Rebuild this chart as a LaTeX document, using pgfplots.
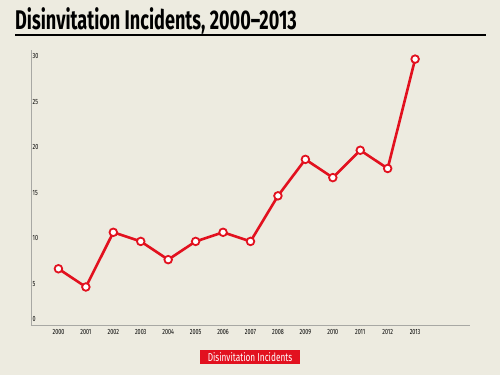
\documentclass[border=0pt]{standalone}
\usepackage{pgfplots}
\pgfplotsset{compat=1.18}
\usepackage{fontspec}
\setmainfont{Fira Sans}
\newfontfamily\titlefont[FakeStretch=0.67]{Fira Sans Bold}
\newfontfamily\condfont[FakeStretch=0.72]{Fira Sans}
\definecolor{bg}{HTML}{EDEBE0}
\definecolor{myred}{HTML}{E2111F}
\definecolor{axgray}{HTML}{A8A8A4}
\begin{document}
\begin{tikzpicture}
\fill[bg] (0,0) rectangle (500pt,375pt);
\node[anchor=base west, inner sep=0pt, font=\titlefont\fontsize{27}{30}\selectfont] at (15pt,345pt) {Disinvitation Incidents, 2000–2013};
\draw[line width=1.6pt, black] (15pt,340pt) -- (486pt,340pt);
\fill[myred] (200pt,11pt) rectangle (300pt,25pt);
\node[text=white, font=\condfont\fontsize{11.5}{12}\selectfont, inner sep=0pt] at (250pt,18pt) {Disinvitation Incidents};
\begin{axis}[
  at={(31pt,50pt)}, anchor=south west,
  width=439pt, height=275pt, scale only axis,
  xmin=1999, xmax=2015,
  ymin=0.83, ymax=31,
  axis lines=left,
  axis line style={-, axgray, line width=0.8pt},
  xtick={2000,...,2013},
  ytick={1.2,5,10,15,20,25,30},
  yticklabels={0,5,10,15,20,25,30},
  major tick length=0pt,
  tick label style={font=\condfont\fontsize{7.5}{8}\selectfont, text=black},
  /pgf/number format/.cd, 1000 sep={}, assume math mode=true,
  /pgfplots/.cd,
  yticklabel style={anchor=west, yshift=3pt, inner sep=1.5pt},
  xticklabel style={yshift=-1pt},
]
\addplot[myred, line width=2.6pt, mark=*, mark size=3.8pt,
  mark options={fill=white, draw=myred, line width=1.8pt}]
coordinates {
(2000,7) (2001,5) (2002,11) (2003,10) (2004,8) (2005,10) (2006,11)
(2007,10) (2008,15) (2009,19) (2010,17) (2011,20) (2012,18) (2013,30)
};
\end{axis}
\end{tikzpicture}
\end{document}
